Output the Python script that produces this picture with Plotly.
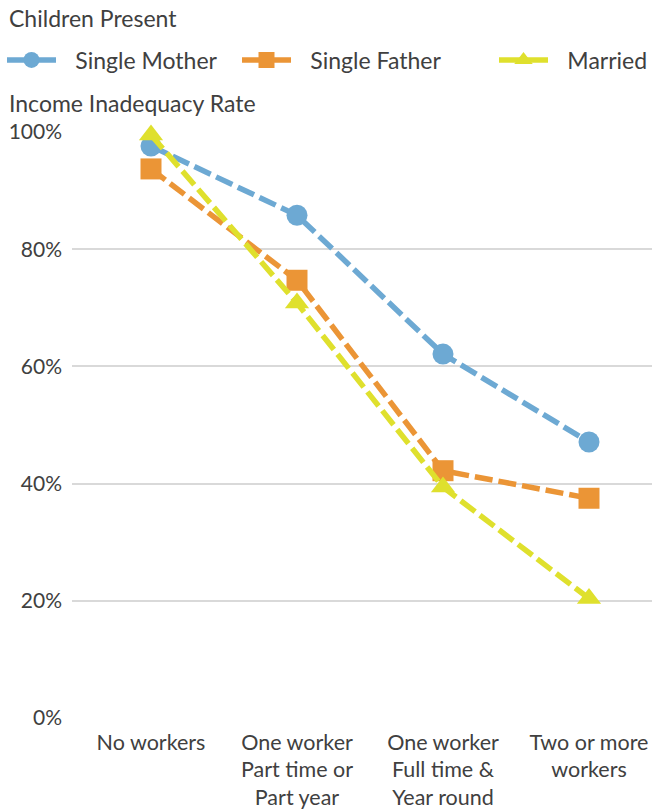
import plotly.graph_objects as go

categories = ["No workers", "One worker<br>Part time or<br>Part year",
              "One worker<br>Full time &<br>Year round", "Two or more<br>workers"]
single_mother = [97.6, 85.8, 62.1, 47.1]
single_father = [93.7, 74.7, 42.2, 37.5]
married = [99.5, 70.8, 39.4, 20.4]
y_ticks = [0, 20, 40, 60, 80, 100]
y_tick_labels = ["0%", "20%", "40%", "60%", "80%", "100%"]

FONT = "Lato"
TXT = "#404040"
FS = 23
W, H = 652, 809
L, R, T, B = 72, 0, 132, 91

series = [
    ("Single Mother", single_mother, "#6DA9D3", "circle", "legend", 8),
    ("Single Father", single_father, "#EB9536", "square", "legend2", 243),
    ("Married", married, "#DFE02D", "triangle-up", "legend3", 500),
]

fig = go.Figure()
xs = list(range(len(categories)))
legends = {}
for name, vals, col, sym, lg, lx in series:
    fig.add_trace(go.Scatter(
        x=xs, y=vals, name=name, mode="lines+markers",
        line=dict(color=col, width=5.5, dash="18px,6px"),
        marker=dict(color=col, size=21, symbol=sym),
        cliponaxis=False, showlegend=False,
    ))
    # legend entry (solid line sample, as in the original legend)
    fig.add_trace(go.Scatter(
        x=[None], y=[None], name="\u2002\u2009" + name, mode="lines+markers",
        line=dict(color=col, width=5.5),
        marker=dict(color=col, size=21, symbol=sym),
        legend=lg, showlegend=True, hoverinfo="skip",
    ))
    legends[lg] = dict(
        orientation="h", xref="container", yref="container",
        x=(lx - 6) / W, y=1 - 60 / H, xanchor="left", yanchor="middle",
        font=dict(size=FS, color=TXT), itemwidth=49,
        bgcolor="rgba(0,0,0,0)",
    )

fig.update_layout(
    width=W, height=H,
    margin=dict(l=L, r=R, t=T, b=B, autoexpand=False),
    paper_bgcolor="white", plot_bgcolor="white",
    font=dict(family=FONT, size=FS, color=TXT),
    showlegend=True,
    xaxis=dict(
        tickmode="array", tickvals=xs, ticktext=categories,
        range=[-(151 - L) / 146, 3 + (652 - 589) / 146],
        showgrid=False, zeroline=False, showline=False, ticks="",
        ticklabelstandoff=9, tickfont=dict(size=21.5, color=TXT),
    ),
    yaxis=dict(
        range=[0, 100], tickmode="array", tickvals=y_ticks, ticktext=y_tick_labels,
        showgrid=True, gridcolor="#D9D9D9", gridwidth=1.5, zeroline=False,
        ticks="", ticklabelstandoff=9, tickfont=dict(size=21, color=TXT),
    ),
    annotations=[
        dict(text="Children Present", xref="paper", yref="paper",
             x=-(L - 7) / (W - L - R), y=1 + (T - 18) / (H - T - B),
             xanchor="left", yanchor="middle", showarrow=False,
             font=dict(size=FS, color=TXT)),
        dict(text="Income Inadequacy Rate", xref="paper", yref="paper",
             x=-(L - 7) / (W - L - R), y=1 + (T - 103) / (H - T - B),
             xanchor="left", yanchor="middle", showarrow=False,
             font=dict(size=FS, color=TXT)),
    ],
    **legends,
)

fig.write_html("out.html", config={"displayModeBar": False},
               post_script="document.body.style.margin='0px';")
